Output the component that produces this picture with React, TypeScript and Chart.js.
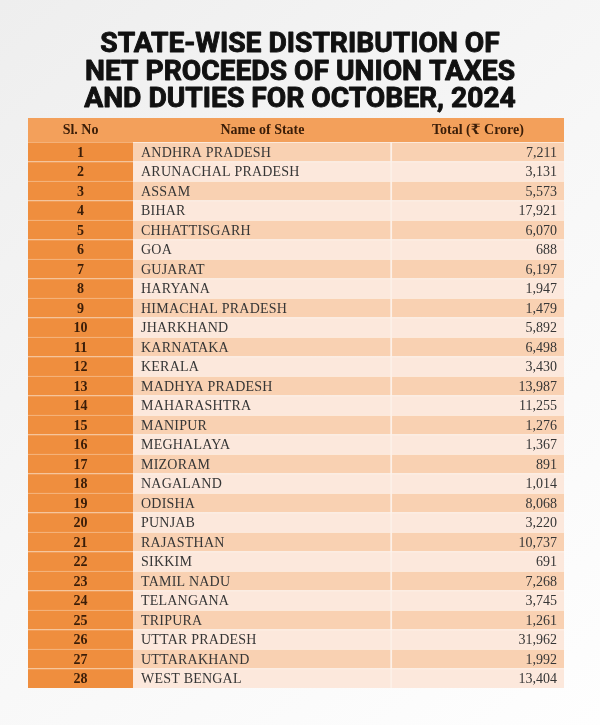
import React, { useEffect, useRef } from "react";
import { Chart, registerables } from "chart.js";
Chart.register(...registerables);

const TITLE_LINES = [
  "STATE-WISE DISTRIBUTION OF",
  "NET PROCEEDS OF UNION TAXES",
  "AND DUTIES FOR OCTOBER, 2024",
];
const HEADERS = ["Sl. No", "Name of State", "Total (₹ Crore)"];
const SL_NO = [
  1, 2, 3, 4, 5, 6, 7, 8, 9, 10, 11, 12, 13, 14, 15, 16, 17, 18, 19, 20, 21,
  22, 23, 24, 25, 26, 27, 28,
];
const STATES = [
  "ANDHRA PRADESH",
  "ARUNACHAL PRADESH",
  "ASSAM",
  "BIHAR",
  "CHHATTISGARH",
  "GOA",
  "GUJARAT",
  "HARYANA",
  "HIMACHAL PRADESH",
  "JHARKHAND",
  "KARNATAKA",
  "KERALA",
  "MADHYA PRADESH",
  "MAHARASHTRA",
  "MANIPUR",
  "MEGHALAYA",
  "MIZORAM",
  "NAGALAND",
  "ODISHA",
  "PUNJAB",
  "RAJASTHAN",
  "SIKKIM",
  "TAMIL NADU",
  "TELANGANA",
  "TRIPURA",
  "UTTAR PRADESH",
  "UTTARAKHAND",
  "WEST BENGAL",
];
const TOTALS = [
  7211, 3131, 5573, 17921, 6070, 688, 6197, 1947, 1479, 5892, 6498, 3430,
  13987, 11255, 1276, 1367, 891, 1014, 8068, 3220, 10737, 691, 7268, 3745,
  1261, 31962, 1992, 13404,
];
// column boundaries on the hidden x scale (percent of table width)
const COLUMN_EDGES = [0, 19.6, 67.9, 100];

const ORANGE = "#ef8e3e";
const HEADER_BG = "#f3a05b";
const ROW_DARK = "#f9d1b2";
const ROW_LIGHT = "#fce8dc";

const tablePlugin = {
  id: "tablePlugin",
  beforeDraw(chart: any) {
    const { ctx, width, height, chartArea, scales } = chart;
    ctx.save();
    const g = ctx.createLinearGradient(0, 0, width, height);
    g.addColorStop(0, "#eeeeee");
    g.addColorStop(0.5, "#f7f7f7");
    g.addColorStop(1, "#fefefe");
    ctx.fillStyle = g;
    ctx.fillRect(0, 0, width, height);

    // title
    ctx.fillStyle = "#111111";
    ctx.strokeStyle = "#111111";
    ctx.lineWidth = 0.9;
    ctx.lineJoin = "round";
    ctx.font = "bold 27px Roboto, 'DejaVu Sans', sans-serif";
    ctx.textAlign = "center";
    ctx.textBaseline = "alphabetic";
    const measured = ctx.measureText(TITLE_LINES[1]).width;
    const sx = 430 / measured;
    const baselines = [52, 80, 107];
    TITLE_LINES.forEach((line, i) => {
      ctx.save();
      ctx.translate(width / 2, baselines[i]);
      ctx.scale(sx, 1);
      ctx.fillText(line, 0, 0);
      ctx.strokeText(line, 0, 0);
      ctx.restore();
    });

    // header row
    const xs = scales.x;
    const left = xs.getPixelForValue(COLUMN_EDGES[0]);
    const right = xs.getPixelForValue(COLUMN_EDGES[3]);
    ctx.fillStyle = HEADER_BG;
    ctx.fillRect(left, chartArea.top - 24, right - left, 24);
    ctx.restore();
  },
  afterDatasetsDraw(chart: any) {
    const { ctx, chartArea, scales } = chart;
    const xs = scales.x;
    const ys = scales.y;
    const e = COLUMN_EDGES.map((v) => xs.getPixelForValue(v));
    ctx.save();
    // header text
    ctx.fillStyle = "#3a1d08";
    ctx.font = "bold 14px 'Liberation Serif', 'DejaVu Serif', serif";
    ctx.textAlign = "center";
    ctx.textBaseline = "alphabetic";
    const hy = chartArea.top - 24 + 16;
    ctx.fillText(HEADERS[0], (e[0] + e[1]) / 2, hy);
    ctx.fillText(HEADERS[1], (e[1] + e[2]) / 2, hy);
    ctx.fillText(HEADERS[2], (e[2] + e[3]) / 2, hy);

    SL_NO.forEach((n, i) => {
      const y = ys.getPixelForValue(i) + 5;
      ctx.fillStyle = "#3a1d08";
      ctx.font = "bold 14px 'Liberation Serif', 'DejaVu Serif', serif";
      ctx.textAlign = "center";
      (ctx as any).letterSpacing = "0px";
      ctx.fillText(String(n), (e[0] + e[1]) / 2, y);
      ctx.fillStyle = "#363636";
      ctx.font = "14px 'Liberation Serif', 'DejaVu Serif', serif";
      ctx.textAlign = "left";
      (ctx as any).letterSpacing = "0.2px";
      ctx.fillText(STATES[i], e[1] + 8, y);
      (ctx as any).letterSpacing = "0px";
      ctx.textAlign = "right";
      ctx.fillText(TOTALS[i].toLocaleString("en-US"), e[3] - 7, y);
    });
    ctx.restore();
  },
};

export default function App() {
  const ref = useRef<HTMLCanvasElement | null>(null);
  useEffect(() => {
    if (!ref.current) return;
    const rowColors = SL_NO.map((_, i) => (i % 2 === 0 ? ROW_DARK : ROW_LIGHT));
    const chart = new Chart(ref.current, {
      type: "bar",
      data: {
        labels: SL_NO.map(String),
        datasets: [
          {
            data: SL_NO.map(() => [COLUMN_EDGES[0], COLUMN_EDGES[1]]) as any,
            backgroundColor: ORANGE,
            borderColor: "#f6bd8c",
            borderWidth: { top: 1, left: 0, right: 0, bottom: 0 } as any,
            borderSkipped: false,
            barPercentage: 1,
            categoryPercentage: 1,
            grouped: false,
          },
          {
            data: SL_NO.map(() => [COLUMN_EDGES[1], COLUMN_EDGES[2]]) as any,
            backgroundColor: rowColors,
            borderColor: "#fdf0e7",
            borderWidth: { top: 1, left: 0, right: 2, bottom: 0 } as any,
            borderSkipped: false,
            barPercentage: 1,
            categoryPercentage: 1,
            grouped: false,
          },
          {
            data: SL_NO.map(() => [COLUMN_EDGES[2], COLUMN_EDGES[3]]) as any,
            backgroundColor: rowColors,
            borderColor: "#fdf0e7",
            borderWidth: { top: 1, left: 0, right: 0, bottom: 0 } as any,
            borderSkipped: false,
            barPercentage: 1,
            categoryPercentage: 1,
            grouped: false,
          },
        ],
      },
      options: {
        indexAxis: "y",
        animation: false,
        responsive: true,
        maintainAspectRatio: false,
        events: [],
        layout: { padding: { top: 142, left: 28, right: 36, bottom: 37 } },
        plugins: { legend: { display: false }, tooltip: { enabled: false }, title: { display: false } },
        scales: {
          x: { type: "linear", min: 0, max: 100, display: false },
          y: { type: "category", display: false, offset: true },
        },
      },
      plugins: [tablePlugin],
    });
    return () => chart.destroy();
  }, []);
  return (
    <div style={{ position: "absolute", left: 0, top: 0, width: 600, height: 725 }}>
      <canvas ref={ref} />
    </div>
  );
}
